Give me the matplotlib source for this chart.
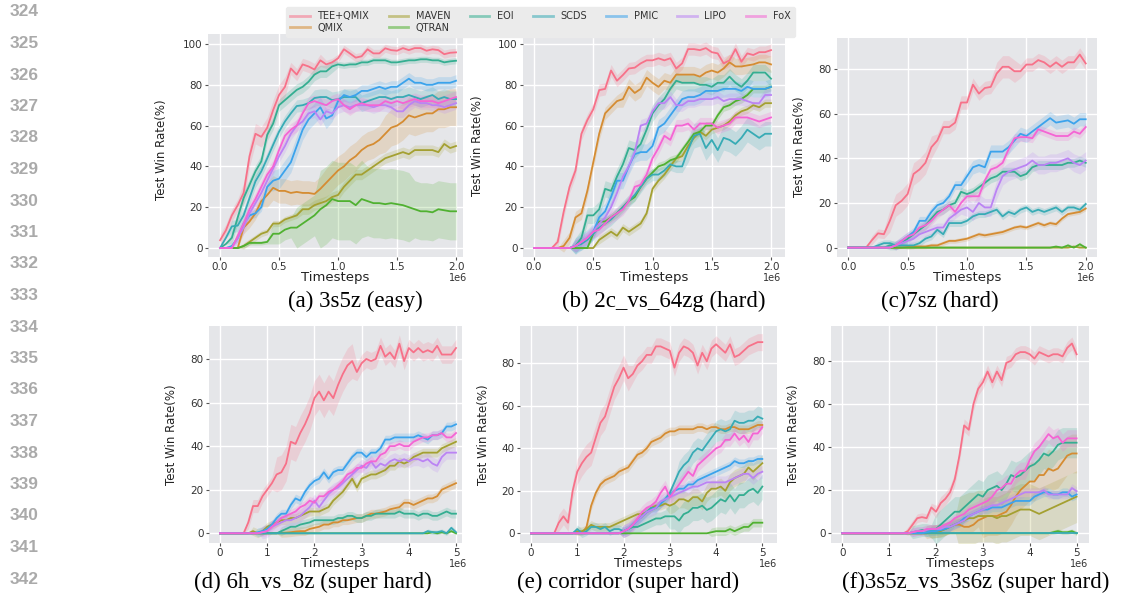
import numpy as np
import matplotlib
matplotlib.use("Agg")
import matplotlib.pyplot as plt
import seaborn as sns
from matplotlib.lines import Line2D
from matplotlib import font_manager

# ---------------- data ----------------
methods = ["TEE+QMIX", "QMIX", "MAVEN", "QTRAN", "EOI", "SCDS", "PMIC", "LIPO", "FoX"]
steps_2m = np.linspace(0, 2.0e6, 41)
steps_5m = np.linspace(0, 5.0e6, 51)
line_numbers = list(range(324, 343))
captions = ["(a) 3s5z (easy)", "(b) 2c_vs_64zg (hard)", "(c)7sz (hard)",
            "(d) 6h_vs_8z (super hard)", "(e) corridor (super hard)",
            "(f)3s5z_vs_3s6z (super hard)"]

# (a) 3s5z
mean_a = {
    "TEE+QMIX": [3.8, 8.7, 16, 21, 27, 45, 56, 54.5, 59, 67.6, 75, 79, 88, 85, 90, 89, 87.5, 92, 90, 91, 93,
                 97.4, 95.4, 93.3, 94, 97.4, 95.4, 95.4, 97.9, 97, 96.7, 98, 97, 98, 98, 96.7, 97.4, 97, 95, 95.7, 95.9],
    "QMIX": [0, 0, 0, 0, 10, 13, 17, 23, 26, 29.5, 28, 28, 27, 27.5, 27, 27, 26.5, 29, 32, 35, 38, 40, 43, 45, 48,
             50, 51, 53, 56, 59, 60, 62, 65, 64, 65, 66, 66, 68, 68, 69, 69],
    "MAVEN": [0, 0, 0, 0, 1, 3, 5, 7, 8, 12, 12, 14, 15, 16, 19, 19, 21, 22, 23, 25, 26, 30, 33, 36, 36, 38, 40,
              42, 44, 45, 46, 47, 46, 48, 48, 48, 48, 47, 51, 49, 50],
    "QTRAN": [0, 0, 0, 0, 1, 2.5, 2.5, 2.5, 3, 7, 7, 9, 10, 10, 12, 14, 16, 19, 21, 24, 23, 23, 23, 21, 24, 23, 22,
              22, 21.5, 22, 21.5, 21, 20, 19, 18, 18, 17.5, 19, 18.5, 18, 18],
    "EOI": [0, 2, 5, 15, 24.5, 31, 37.6, 42.5, 55.5, 61, 70, 72.5, 75, 77.5, 79, 81.5, 85, 86.6, 86.6, 89, 90, 89.5,
            90, 90, 91, 91, 92, 92, 92, 91, 91, 91.5, 92, 92, 92.5, 92.5, 92, 92, 91, 91.5, 91.8],
    "SCDS": [0, 5, 10.6, 11, 16, 24.5, 32.7, 37.6, 44, 50.6, 57, 62, 66, 69.6, 70, 71, 73.5, 74, 74, 72.5, 73, 74,
             74, 74, 71, 72, 73, 74, 74, 73, 74, 74, 75, 74, 73, 74, 75, 73, 74, 73, 73],
    "PMIC": [0, 0, 1, 5, 12, 16, 17, 20, 30, 33, 34, 38, 42, 50, 58, 63, 66, 69, 63.5, 65, 72, 75, 74, 75, 77, 77,
             78, 79, 78, 79, 79, 81, 83, 81, 81, 80, 80, 81, 81, 81, 82],
    "LIPO": [0, 0, 0, 5, 10, 17, 22, 27, 33, 39, 45, 50, 56, 60, 62, 66, 67, 63, 67, 66, 69, 70, 69, 70, 70, 70, 69,
             70, 70, 69, 67, 67, 70, 72, 71, 71, 70, 70, 69, 70, 71],
    "FoX": [0, 0, 0, 6, 12, 19, 24, 30, 36, 40, 48, 55, 58, 60, 66, 71, 72, 71, 70, 72, 73, 70, 68, 70, 71, 70, 70,
            70, 72, 71, 72, 71, 72, 73, 72, 72, 72, 71, 72, 73, 74],
}
band_a = {
    "TEE+QMIX": [3] * 4 + [5] * 8 + [3] * 6 + [2] * 23,
    "QMIX": [0] * 4 + [3] * 4 + [6] * 10 + [7] * 10 + [9] * 13,
    "MAVEN": [0] * 4 + [1.5] * 10 + [2.5] * 27,
    "QTRAN": [0] * 4 + [1] * 5 + [5] * 4 + [10] * 4 + [19] * 8 + [17] * 8 + [14] * 8,
    "EOI": [0] * 2 + [3] * 18 + [1.5] * 21,
    "SCDS": [0] * 2 + [3] * 14 + [4] * 25,
    "PMIC": [0] * 3 + [2] * 6 + [5] * 10 + [3] * 22,
    "LIPO": [0] * 3 + [3] * 38,
    "FoX": [0] * 3 + [3] * 38,
}

# (b) 2c_vs_64zg
mean_b = {
    "TEE+QMIX": [0, 0, 0, 0, 3, 17.7, 30, 38, 56, 62.7, 68, 77.4, 78, 87, 82, 84.8, 88, 88.4, 90.5, 92, 92, 93, 92,
                 93, 88, 90.5, 97.5, 97.5, 97, 98, 96, 95.4, 90.5, 92, 97.5, 91.3, 95.4, 94.6, 96, 96, 97],
    "QMIX": [0, 0, 0, 0, 0, 1, 5, 15, 17, 28, 42, 56, 66, 69, 72, 73, 79, 76, 78, 83.5, 81, 79, 82, 81, 85, 85, 85,
             85, 84, 86, 87, 86, 88, 91, 89, 89, 89.5, 90, 91, 91, 90],
    "MAVEN": [0] * 11 + [4, 6, 8, 6, 10, 8, 10, 12, 17, 29, 33, 36, 40, 44, 45, 50, 54, 57, 55, 58, 59, 60, 62, 65,
                         67, 68, 70, 69, 71, 71],
    "QTRAN": [0] * 10 + [7, 13, 13, 15, 17, 20, 23, 25, 30, 34, 37, 40, 41, 43, 44, 48, 52, 56, 57, 60, 60, 65, 69,
                         70, 72, 73, 75, 78, 78, 78, 79],
    "EOI": [0] * 7 + [1, 5, 16, 16, 19, 29, 28, 35, 41, 49, 48, 51, 58, 66, 70, 73, 78, 82, 81, 81, 81, 80, 80, 79,
                      81, 81, 84, 81, 79, 82, 86, 86, 86, 83],
    "SCDS": [0] * 7 + [1, 2, 4, 7, 10, 12, 14, 17, 20, 23, 26, 30, 34, 36, 36, 38, 41, 40, 40, 48, 55, 56, 49, 53,
                       48, 54, 53, 51, 54, 58, 56, 54, 56, 56],
    "PMIC": [0] * 7 + [1, 3, 5, 8, 15, 18, 25, 33, 33, 40, 46, 47, 47, 50, 59, 61, 65, 69, 73, 74, 74, 75, 77, 77,
                       77, 78, 78, 78, 77, 79, 78, 78, 78, 79],
    "LIPO": [0] * 7 + [1, 3, 5, 8, 12, 15, 20, 27, 35, 40, 47, 60, 61, 67, 71, 71, 74, 70, 70, 72, 72, 73, 73, 73,
                       74, 72, 73, 73, 73, 72, 71, 71, 75, 75],
    "FoX": [0] * 7 + [1, 3, 5, 8, 9, 12, 15, 17, 19, 23, 30, 31, 36, 44, 49, 55, 53, 60, 60, 61, 58, 61, 61, 61, 59,
                      60, 61, 64, 64, 64, 63, 62, 63, 64],
}
band_b = {
    "TEE+QMIX": [0] * 4 + [3] * 37,
    "QMIX": [0] * 5 + [3] * 10 + [4] * 26,
    "MAVEN": [0] * 11 + [2] * 30,
    "QTRAN": [0] * 10 + [2] * 31,
    "EOI": [0] * 7 + [4] * 34,
    "SCDS": [0] * 7 + [3] * 19 + [6] * 15,
    "PMIC": [0] * 7 + [4] * 34,
    "LIPO": [0] * 7 + [3] * 34,
    "FoX": [0] * 7 + [3] * 34,
}

# (c) 7sz
mean_c = {
    "TEE+QMIX": [0, 0, 0, 0, 3.4, 6.4, 6, 12, 19, 21, 24, 33, 35, 38, 45, 48, 54, 54, 56, 65, 65, 73, 69, 71.5, 72,
                 78, 81, 81, 79, 79, 82, 82, 84, 83, 81, 83, 81, 83, 83, 86.5, 82.5],
    "QMIX": [0] * 10 + [0.3, 0.5, 0.5, 0.5, 1, 1, 2, 3, 3, 3.5, 4, 5, 6, 5.5, 6, 6.5, 7, 8, 9, 9.5, 9, 10, 11, 10,
                        11, 10.5, 13, 15, 15.5, 16, 17.5],
    "MAVEN": [0] * 38 + [0.5, 0, 0],
    "QTRAN": [0] * 35 + [0.5, 0, 1, 0, 1.5, 0],
    "EOI": [0] * 7 + [1, 1, 2, 4, 6, 8, 10, 13, 16, 17, 19, 20, 25, 24, 25, 27, 29, 31, 32, 34, 34, 34, 32, 33, 36,
                      37, 37, 37, 37, 37, 38, 38, 39, 38],
    "SCDS": [0] * 5 + [1, 2, 2, 1, 1, 1, 1, 2, 4, 5, 8, 6, 11, 11, 11, 12, 14, 15, 15, 16, 17, 14, 16, 15, 17, 18,
                       16, 17, 16, 17, 18, 16, 18, 18, 17, 19.5],
    "PMIC": [0] * 8 + [1, 3, 5, 7, 12, 12, 16, 19, 20, 23, 28, 28, 32, 36, 37, 36, 43, 43, 43, 45, 48, 51, 50, 52,
                       54, 56, 58, 56, 56.5, 57, 55.5, 57.5, 57.5],
    "LIPO": [0] * 8 + [1, 2, 3, 4, 6, 7, 8, 9, 9, 13, 15, 17, 18, 16, 20, 18, 18, 26, 32, 34, 35, 36, 37, 39, 37, 37,
                       38, 38, 39, 40, 38, 37, 39],
    "FoX": [0] * 8 + [1, 3, 5, 6, 9, 10, 12, 15, 17, 19, 16, 20, 23, 23, 23, 30, 35, 36, 38, 44, 49, 49.5, 49.5, 49,
                      53, 52, 51, 50, 50, 50, 52, 51, 54],
}
band_c = {
    "TEE+QMIX": [0] * 4 + [2] * 3 + [5] * 8 + [3] * 10 + [5] * 4 + [3] * 12,
    "QMIX": [0] * 10 + [1] * 31,
    "MAVEN": [0] * 38 + [0.5, 0, 0],
    "QTRAN": [0] * 35 + [0.5, 0, 1, 0, 1, 0],
    "EOI": [0] * 7 + [2] * 34,
    "SCDS": [0] * 5 + [1.5] * 36,
    "PMIC": [0] * 8 + [2] * 12 + [3] * 21,
    "LIPO": [0] * 8 + [2] * 12 + [4] * 21,
    "FoX": [0] * 8 + [2] * 33,
}

# (d) 6h_vs_8z
mean_d = {
    "TEE+QMIX": [0, 0, 0, 0, 0, 0, 5, 12.5, 12.5, 17, 20, 23, 27, 28, 32, 42, 41, 46, 50, 55, 62, 65, 61, 65, 62, 68,
                 73, 77, 79, 74, 78, 80, 79, 80, 86, 81, 83, 80, 87, 79, 85, 83, 85, 83, 84, 83, 86, 82, 82, 82, 85],
    "QMIX": [0] * 13 + [0.2, 0.3, 0.5, 0.8, 1, 1, 2, 2.5, 3, 4, 4, 5, 5, 6, 6, 6.5, 7, 7, 8, 9, 9, 9.5, 10, 11, 11.5,
                        12, 14, 14, 13, 14, 15, 16, 16, 17, 20, 21, 22, 23],
    "MAVEN": [0, 0, 0, 0, 0, 0, 0, 1, 0, 1, 3, 4, 5, 6, 6, 7, 7, 8, 9, 10, 10, 10, 11, 12, 15, 17, 19, 22, 25, 21, 25,
              26, 27, 27, 28, 29, 31, 31, 33, 32, 33, 35, 36, 37, 37, 37, 37, 39, 40, 41, 42],
    "QTRAN": [0] * 45 + [0.5, 0, 0.5, 0, 1, 0],
    "EOI": [0] * 13 + [1, 2, 3, 3, 4, 4.5, 5, 6, 6, 6, 6, 6, 7, 7, 8, 8, 7, 7, 8, 8, 9, 9, 9, 9, 9, 10, 9, 9, 9, 8, 9,
                       9, 8, 8, 9, 10, 9, 9],
    "SCDS": [0] * 44 + [1, 0.5, 0.5, 1, 0, 2.5, 0.5],
    "PMIC": [0, 0, 0, 0, 0, 0, 0, 0, 0.5, 1, 2, 4, 7, 9, 9, 13, 16, 15, 19, 22, 24, 25, 28, 25, 28, 29, 29, 32, 35, 37,
             37, 35, 37, 37, 39, 43, 43, 44, 44, 44, 44, 44, 45, 44, 43, 45, 45, 46, 49, 49, 50],
    "LIPO": [0, 0, 0, 0, 0, 0, 0, 0, 0, 0.5, 1, 3, 4, 5, 6, 6, 7, 8, 10, 12, 15, 12, 15, 18, 20, 21, 23, 25, 27, 29,
             31, 30, 33, 30, 32, 31, 33, 34, 33, 34, 33, 34, 34, 33, 34, 32, 31, 35, 37, 37, 37],
    "FoX": [0, 0, 0, 0, 0, 0, 0, 0, 0, 0.5, 1, 3, 5, 7, 8, 9, 10, 12, 13, 15, 14, 17, 17, 19, 20, 22, 24, 27, 28, 30,
            30, 32, 33, 33, 36, 37, 40, 40, 41, 40, 40, 42, 43, 44, 44, 45, 45, 46, 44, 44, 46],
}
band_d = {
    "TEE+QMIX": [0] * 6 + [3] * 6 + [8] * 17 + [4] * 22,
    "QMIX": [0] * 13 + [2] * 38,
    "MAVEN": [0] * 7 + [2] * 44,
    "QTRAN": [0] * 45 + [0.5] * 6,
    "EOI": [0] * 13 + [2] * 38,
    "SCDS": [0] * 44 + [1] * 7,
    "PMIC": [0] * 8 + [2] * 43,
    "LIPO": [0] * 9 + [3] * 42,
    "FoX": [0] * 9 + [2] * 42,
}

# (e) corridor
mean_e = {
    "TEE+QMIX": [0, 0, 0, 0, 0, 0, 5, 8, 5, 20, 29, 33, 36, 38, 45, 52, 55, 62, 69, 73, 78, 73, 75, 79, 81, 84, 84, 88,
                 88, 87, 86, 78, 85, 88, 87, 85, 79, 85, 81, 87, 89, 87, 85, 89, 83, 84, 86, 88, 89, 90, 90],
    "QMIX": [0] * 12 + [3, 13, 19, 23, 25, 26, 27, 29, 30, 31, 34, 37, 38, 40, 43, 44, 45, 47, 48, 48, 49, 49, 49, 49,
                        50, 50, 49, 50, 50, 49, 49, 50, 50, 49, 49, 49, 50, 51, 51],
    "MAVEN": [0] * 10 + [1, 1, 2, 4, 3, 3, 3, 3, 4, 5, 6, 7, 8, 9, 9, 10, 12, 13, 13, 14, 13, 14, 16, 16, 15, 17, 17,
                         15, 19, 21, 21, 22, 20, 24, 26, 27, 28, 31, 29, 31, 33],
    "QTRAN": [0] * 39 + [0.5, 1, 1, 1, 2, 1, 2, 3, 3, 5, 5, 5],
    "EOI": [0] * 20 + [1, 2, 3, 3, 4, 5, 6, 7, 7, 8, 8, 8, 6, 9, 10, 12, 12, 13, 11, 12, 14, 16, 15, 18, 15, 18, 18,
                       20, 21, 19, 22],
    "SCDS": [0] * 10 + [2, 0, 1, 3, 3, 2, 3, 1, 2, 2, 1, 2, 4, 6, 8, 10, 12, 12, 14, 16, 19, 24, 29, 32, 34, 38, 40,
                        39, 42, 45, 48, 49, 48, 49, 53, 52, 52, 53, 53, 55, 54],
    "PMIC": [0] * 20 + [1, 2, 4, 6, 8, 10, 11, 12, 14, 16, 18, 20, 21, 21, 23, 23, 25, 26, 27, 28, 29, 30, 31, 32, 34,
                        33, 33, 34, 34, 35, 35],
    "LIPO": [0] * 20 + [1, 2, 4, 6, 8, 10, 11, 12, 15, 16, 17, 18, 19, 20, 21, 22, 22, 23, 24, 24, 24, 24, 24, 25, 26,
                        27, 28, 28, 26, 28, 29],
    "FoX": [0] * 20 + [1, 2, 4, 7, 10, 12, 13, 15, 19, 22, 17, 20, 23, 26, 29, 27, 32, 34, 36, 38, 40, 41, 44, 44, 47,
                       44, 46, 43, 47, 47, 50],
}
band_e = {
    "TEE+QMIX": [0] * 6 + [4] * 4 + [6] * 12 + [4] * 29,
    "QMIX": [0] * 12 + [2] * 39,
    "MAVEN": [0] * 10 + [2] * 20 + [4] * 21,
    "QTRAN": [0] * 39 + [2] * 12,
    "EOI": [0] * 20 + [3] * 10 + [6] * 21,
    "SCDS": [0] * 10 + [2] * 22 + [5] * 19,
    "PMIC": [0] * 20 + [2] * 31,
    "LIPO": [0] * 20 + [3] * 31,
    "FoX": [0] * 20 + [3] * 31,
}

# (f) 3s5z_vs_3s6z
mean_f = {
    "TEE+QMIX": [0] * 14 + [1, 4, 7, 7.5, 7, 12, 10, 14, 16, 19, 25, 36, 50, 48, 60, 67, 70, 75, 70, 75, 71, 79, 80,
                            83, 84, 84, 83, 81, 84, 83, 82, 83, 83, 82, 86, 88, 83],
    "QMIX": [0] * 18 + [0.5, 1, 1, 1.5, 2, 3, 4, 4, 3, 3, 4, 6, 7, 8, 8, 8, 9, 10, 13, 17, 20, 22, 24, 24, 27, 27, 30,
                        29, 30, 33, 36, 37, 37],
    "MAVEN": [0] * 19 + [0.5, 1, 1, 2, 3, 4, 5, 6, 7, 7, 8, 8, 8, 8, 7, 8, 8, 9, 10, 11, 11, 11, 10, 9, 10, 11, 12,
                         13, 14, 15, 16, 17],
    "QTRAN": [0] * 45 + [0.5, 1, 0.5, 0.5, 1, 0],
    "EOI": [0] * 15 + [0.5, 1, 1.5, 1.5, 1, 2, 4, 6, 8, 10, 10, 12, 14, 16, 18, 17, 20, 21, 22, 20, 23, 27, 26, 27,
                       29, 31, 32, 34, 37, 36, 38, 41, 42, 42, 42, 42],
    "SCDS": [0] * 51,
    "PMIC": [0] * 18 + [0.5, 1, 1, 1.5, 2, 3, 4, 5, 7, 8, 9, 10, 11, 11, 12, 12, 12, 13, 14, 15, 15, 15, 15, 17, 18,
                        19, 19, 18, 18, 19, 19, 17, 18],
    "LIPO": [0] * 15 + [0.5, 1, 1, 1.5, 2, 2, 2, 3, 3, 4, 5, 6, 8, 9, 10, 11, 12, 13, 13, 14, 15, 16, 17, 18, 19, 19,
                        19, 19, 20, 18, 18, 18, 18, 18, 21, 19.5],
    "FoX": [0] * 15 + [0.5, 1, 1, 2, 2, 2, 3, 4, 5, 7, 8, 9, 11, 12, 13, 14, 15, 17, 20, 21, 23, 23, 27, 29, 29, 34,
                       38, 40, 43, 46, 44, 45, 42, 44, 44, 44],
}
band_f = {
    "TEE+QMIX": [0] * 14 + [2] * 6 + [3] * 31,
    "QMIX": [0] * 18 + [3] * 12 + [9] * 21,
    "MAVEN": [0] * 19 + [3] * 6 + [12] * 26,
    "QTRAN": [0] * 45 + [1] * 6,
    "EOI": [0] * 15 + [3] * 5 + [7] * 31,
    "SCDS": [0] * 51,
    "PMIC": [0] * 18 + [2] * 33,
    "LIPO": [0] * 15 + [2] * 36,
    "FoX": [0] * 15 + [2] * 15 + [4] * 21,
}

panel_means = [mean_a, mean_b, mean_c, mean_d, mean_e, mean_f]
panel_bands = [band_a, band_b, band_c, band_d, band_e, band_f]
panel_steps = [steps_2m, steps_2m, steps_2m, steps_5m, steps_5m, steps_5m]
xticks_2m = [0, 0.5e6, 1.0e6, 1.5e6, 2.0e6]
xticks_5m = [0, 1e6, 2e6, 3e6, 4e6, 5e6]
yticks_100 = [0, 20, 40, 60, 80, 100]
yticks_80 = [0, 20, 40, 60, 80]

# ---------------- layout (pixels) ----------------
W, H = 1134, 606
# left, right, top, bottom (px); xlim (1e6 units); ylim
boxes = [
    (208, 463, 34, 257, (-0.102, 2.059), (-4.4, 104.9)),
    (523, 785, 34, 257, (-0.093, 2.118), (-4.4, 104.9)),
    (837, 1097, 38, 257, (-0.095, 2.095), (-4.2, 93.9)),
    (209, 462, 326, 543, (-0.233, 5.127), (-4.45, 95.1)),
    (520, 777, 326, 543, (-0.238, 5.317), (-4.56, 97.6)),
    (831, 1089, 326, 543, (-0.240, 5.264), (-4.5, 96.1)),
]
ylabel_pos = [(161, 150), (477, 146), (799, 147), (171, 435), (483, 435), (793, 435)]
caption_pos = [(355, 301), (664, 301), (940, 301), (313, 582), (628, 582), (976, 582)]
offset_pos = [(458, 278), (772, 278), (1086, 278), (458, 564), (768, 564), (1079, 564)]


def available(fam):
    try:
        font_manager.findfont(font_manager.FontProperties(family=fam), fallback_to_default=False)
        return True
    except Exception:
        return False


narrow = "Liberation Sans Narrow" if available("Liberation Sans Narrow") else "DejaVu Sans"
serif = "Liberation Serif" if available("Liberation Serif") else "DejaVu Serif"
sans = "Liberation Sans" if available("Liberation Sans") else "DejaVu Sans"

colors = sns.color_palette("husl", 9)
plt.rcParams["font.family"] = ["DejaVu Sans"]

fig = plt.figure(figsize=(W / 100, H / 100), dpi=100)
fig.patch.set_facecolor("white")

for i in range(6):
    l, r, t, b, xl, yl = boxes[i]
    ax = fig.add_axes([l / W, 1 - b / H, (r - l) / W, (b - t) / H])
    ax.set_facecolor("#e5e6e9")
    x = panel_steps[i]
    for name, c in zip(methods, colors):
        m = np.asarray(panel_means[i][name], dtype=float)
        s = np.asarray(panel_bands[i][name], dtype=float)
        assert len(m) == len(x) and len(s) == len(x), (i, name, len(m), len(s))
        ax.fill_between(x, m - s, m + s, color=c, alpha=0.2, lw=0)
        ax.plot(x, m, color=c, lw=1.3)
    ax.grid(True, color="white", lw=1.0)
    ax.set_axisbelow(True)
    for sp in ax.spines.values():
        sp.set_visible(False)
    ax.set_xlim(xl[0] * 1e6, xl[1] * 1e6)
    ax.set_ylim(*yl)
    ax.set_xticks(xticks_2m if i < 3 else xticks_5m)
    ax.set_yticks(yticks_100 if i < 2 else yticks_80)
    ax.tick_params(length=2.5, width=0.8, color="#555555", labelsize=7.5, pad=1.2,
                   labelcolor="#333333")
    ax.set_xlabel("Timesteps", fontsize=9.5, labelpad=-0.5, color="#222222")
    ax.xaxis.get_offset_text().set_visible(False)
    ox, oy = offset_pos[i]
    fig.text(ox / W, 1 - oy / H, "1e6", ha="center", va="center", fontsize=7,
             color="#333333")

    lx, ly = ylabel_pos[i]
    fig.text(lx / W, 1 - ly / H, "Test Win Rate(%)", rotation=90, ha="center", va="center",
             family=narrow, fontsize=8.5, color="#222222")
    cx, cy = caption_pos[i]
    fig.text(cx / W, 1 - cy / H, captions[i], ha="center", va="center", family=serif,
             fontsize=16.5, color="black")

for k, num in enumerate(line_numbers):
    fig.text(24 / W, 1 - (12 + 31.5 * k) / H, str(num), ha="center", va="center",
             family=sans, fontsize=12.5, fontweight="bold", color="#aaaaaa")

handles = [Line2D([], [], color=c, lw=2, alpha=0.55) for c in colors]
leg = fig.legend(handles, methods, loc="upper center",
                 bbox_to_anchor=((288 + 793) / 2 / W, 1 - 2 / H), ncol=7, fontsize=7,
                 frameon=True, facecolor="#ebebeb", edgecolor="#ebebeb", framealpha=1,
                 handlelength=2, handletextpad=0.8, columnspacing=2.0, borderpad=0.45,
                 labelspacing=0.15)
for txt in leg.get_texts():
    txt.set_color("#333333")

fig.savefig("out.png", dpi=100)
